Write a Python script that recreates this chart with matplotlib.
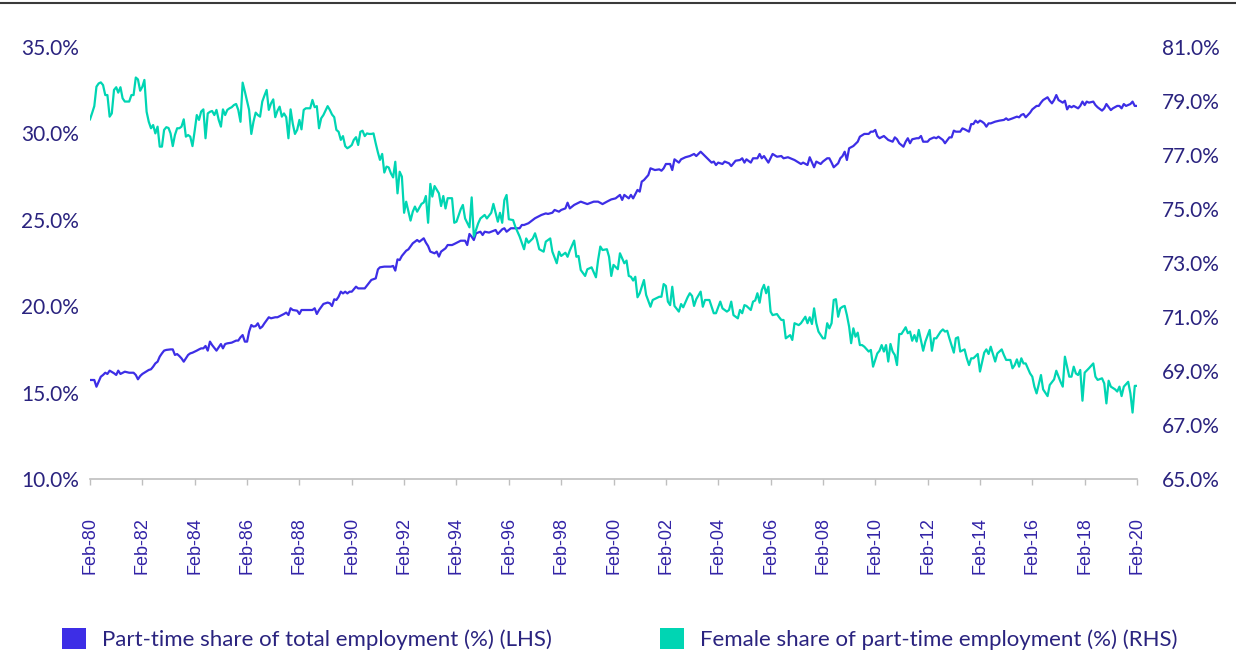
import matplotlib
matplotlib.use("Agg")
import matplotlib.pyplot as plt
import pandas as pd
from matplotlib.lines import Line2D
from matplotlib.patches import Patch
from matplotlib.ticker import FuncFormatter, MultipleLocator

# months counted from Feb-1980
pt_months = [
    0, 2, 3, 5, 6, 7, 8, 9, 11, 12, 13, 14, 16, 18, 20, 21, 22, 23, 24, 25, 27, 28, 29, 30, 31, 32, 33, 34, 35, 37,
    38, 39, 40, 41, 42, 43, 44, 45, 46, 47, 49, 50, 51, 52, 53, 54, 55, 56, 58, 60, 61, 62, 63, 65, 67, 68, 69, 70,
    71, 72, 73, 74, 75, 76, 77, 78, 79, 80, 82, 83, 85, 86, 88, 89, 90, 91, 92, 93, 95, 96, 97, 99, 102, 103, 104,
    105, 107, 109, 110, 111, 112, 113, 114, 115, 116, 117, 118, 119, 120, 122, 123,
    124, 126, 128, 129, 131, 132, 133, 135, 138, 139, 140, 141, 142, 143, 145, 146, 148, 149, 150, 151, 153, 154,
    155, 156, 158, 159, 160, 161, 163, 164, 166, 167, 170, 172, 173, 174, 175, 176, 177, 179, 180, 181, 183, 184,
    186, 187, 189, 190, 191, 193, 195, 197, 198, 199, 201, 203, 204, 206, 207, 209, 210, 212, 213, 215, 216, 218,
    219, 220, 222, 225, 228, 231, 233, 235, 237, 239, 241, 243, 244, 245, 247, 248, 249, 251,
    252, 253, 254, 256, 257, 259, 261, 262, 263, 264, 266, 267, 268, 270, 271, 273, 275, 277, 278, 280, 282, 283,
    285, 286, 287, 288, 290, 291, 293, 294, 296, 298, 299, 300, 301, 303, 304, 306, 307, 308, 309, 311, 313, 315,
    317, 318, 320, 323, 325, 326, 327, 329, 330, 332, 333, 335, 336, 338, 339, 340, 341, 343, 344, 345, 346, 347,
    348, 350, 352, 353, 355, 357, 358, 359, 360, 361,
    362, 364, 366, 368, 369, 370, 371, 373, 374, 375, 376, 377, 379, 380, 381, 382, 384, 385, 387, 388, 389, 391,
    392, 394, 395, 396, 397, 399, 400, 401, 403, 404, 405, 406, 407, 408, 409, 410, 411, 412, 413, 415, 417, 419,
    420, 421, 423, 425, 426, 427, 428, 429, 431, 432, 434, 435, 436, 437, 439, 440, 441, 442, 443, 444, 446, 447,
    448, 449, 450, 451, 453, 454, 455, 456, 457, 458, 460, 461, 462, 464, 465, 466, 468, 469, 471, 472, 473, 474,
    475, 477, 478, 479, 480,
]
pt_share = [
    15.73, 15.73, 15.34, 15.92, 16.02, 16.15, 16.08, 16.27, 16.12, 16.02, 16.27, 16.08, 16.21, 16.15, 16.15, 16.02,
    15.77, 15.96, 16.08, 16.15, 16.31, 16.35, 16.50, 16.69, 16.79, 17.08, 17.27, 17.43, 17.47, 17.50, 17.50, 17.18,
    17.23, 17.12, 16.98, 16.79, 16.98, 17.18, 17.27, 17.31, 17.43, 17.50, 17.56, 17.56, 17.70, 17.43, 17.95, 17.75,
    17.43, 17.81, 17.56, 17.81, 17.85, 17.89, 18.01, 18.01, 18.20, 18.33, 17.95, 17.95, 18.53, 18.91, 18.82, 18.85,
    19.01, 18.72, 18.82, 19.01, 19.36, 19.30, 19.36, 19.36, 19.49, 19.55, 19.63, 19.49, 19.88, 19.78, 19.74, 19.55,
    19.78, 19.78, 19.78, 19.88, 19.55, 19.78, 20.13, 20.21, 20.17, 20.01, 20.40, 20.36, 20.55, 20.84, 20.74, 20.84,
    20.74, 20.84, 20.84, 21.13, 21.03,
    21.03, 21.03, 21.36, 21.52, 21.61, 22.13, 22.25, 22.29, 22.29, 22.33, 22.06, 22.71, 22.67, 22.91, 23.21, 23.29,
    23.64, 23.73, 23.83, 23.73, 23.93, 23.68, 23.48, 23.16, 23.06, 23.16, 22.87, 23.16, 23.35, 23.54, 23.54, 23.60,
    23.79, 23.79, 23.54, 24.18, 24.02, 23.83, 24.22, 24.31, 24.12, 24.31, 24.26, 24.31, 24.41, 24.18, 24.45, 24.51,
    24.31, 24.51, 24.51, 24.51, 24.70, 24.70, 24.80, 24.99, 25.09, 25.22, 25.28, 25.37, 25.34, 25.41, 25.57, 25.47,
    25.57, 25.66, 25.99, 25.66, 25.86, 26.05, 25.91, 26.05, 26.05, 25.91, 26.05, 26.18, 26.24, 26.44, 26.15, 26.44,
    26.24, 26.44, 26.24, 26.73,
    26.63, 27.21, 27.30, 27.59, 27.98, 27.88, 27.92, 27.84, 27.98, 28.23, 28.23, 27.88, 28.50, 28.31, 28.50, 28.62,
    28.69, 28.81, 28.69, 28.94, 28.69, 28.56, 28.31, 28.37, 28.17, 28.31, 28.23, 28.37, 28.27, 28.11, 28.42, 28.46,
    28.56, 28.31, 28.50, 28.31, 28.56, 28.56, 28.81, 28.56, 28.69, 28.31, 28.81, 28.65, 28.69, 28.56, 28.62, 28.46,
    28.31, 28.23, 28.31, 28.17, 28.62, 28.04, 28.37, 28.23, 28.37, 28.56, 28.56, 28.31, 28.04, 28.27, 28.56, 28.69,
    28.94, 28.46, 29.14, 29.27, 29.52, 29.81, 29.97, 29.97, 30.10, 30.10, 30.20, 29.85,
    29.72, 29.85, 29.62, 29.52, 29.77, 29.66, 29.43, 29.23, 29.52, 29.72, 29.43, 29.66, 29.72, 29.72, 29.85, 29.52,
    29.52, 29.66, 29.77, 29.72, 29.81, 29.62, 29.43, 29.77, 29.77, 30.16, 30.10, 30.10, 30.29, 30.24, 30.10, 30.54,
    30.54, 30.74, 30.62, 30.74, 30.68, 30.58, 30.39, 30.58, 30.58, 30.68, 30.74, 30.78, 30.87, 30.78, 30.87, 30.97,
    30.93, 31.07, 31.12, 30.93, 31.20, 31.39, 31.59, 31.59, 31.78, 31.93, 32.09, 31.89, 31.74, 31.93, 32.22, 31.93,
    31.78, 31.89, 31.39, 31.59, 31.51, 31.59, 31.45, 31.59, 31.84, 31.64, 31.84, 31.78, 31.84, 31.64, 31.51, 31.32,
    31.45, 31.70, 31.35, 31.45, 31.59, 31.59, 31.45, 31.70, 31.59, 31.70, 31.84, 31.59, 31.59,
]

fem_months = [
    0, 1, 2, 3, 4, 5, 6, 7, 8, 9, 10, 11, 12, 13, 14, 15, 16, 17, 18, 19, 20, 21, 22, 23, 24, 25, 26, 27, 28, 29,
    30, 31, 32, 33, 34, 35, 36, 37, 38, 39, 40, 41, 42, 43, 44, 45, 46, 47, 48, 49, 50, 51, 52, 53, 54, 55, 56, 57,
    58, 59, 60, 61, 62, 63, 64, 65, 66, 67, 68, 69, 70, 71, 72, 73, 74, 75, 76, 77, 78, 79, 80, 81, 82, 83, 84, 85,
    86, 87, 88, 89, 90, 91, 92, 93, 94, 95, 96, 97, 98, 99, 100, 101, 102, 103, 104, 105, 106, 107, 108, 109, 110,
    111, 112, 113, 114, 115, 116, 117, 118, 119, 120, 121, 122, 123, 124, 125, 126, 127, 128, 129, 130, 131, 132, 133,
    134, 135, 136, 137, 138, 139, 140, 141, 142, 143, 144, 145, 147, 148, 149, 150, 152, 153, 154, 155, 156, 157, 158,
    160, 161, 162, 163, 164, 166, 167, 168, 170, 171, 172, 173, 174, 175, 176, 178, 179, 181, 182, 184, 185, 187, 188,
    189, 190, 191, 192, 194, 195, 197, 199, 200, 201, 203, 204, 205, 206, 208, 209, 211, 212, 214, 215, 216, 218, 219,
    220, 222, 223, 224, 225, 227, 228, 229, 230, 232, 233, 234, 235, 237, 238, 239, 240, 242, 243, 245, 246, 247, 248,
    249, 250, 251,
    252, 254, 255, 257, 258, 261, 262, 263, 264, 265, 266, 267, 268, 270, 271, 272, 274, 275, 276, 277, 278, 280, 281,
    282, 284, 286, 287, 289, 290, 292, 293, 294, 295, 297, 298, 299, 300, 301, 303, 304, 305, 306, 307, 308, 309, 310,
    311, 312, 313, 315, 316, 317, 318, 319, 321, 322, 323, 325, 326, 328, 329, 330, 331, 332, 333, 334, 336, 337, 338,
    339, 340, 341, 342, 343, 344, 345, 346, 347, 348, 349, 350, 351, 352, 353, 354, 355, 357, 358, 359, 361, 362, 363,
    364, 365, 366, 367, 368, 369, 370, 371,
    372, 374, 375, 376, 377, 378, 379, 380, 382, 383, 385, 386, 387, 388, 390, 391, 392, 393, 394, 396, 397, 398, 399,
    401, 402, 403, 404, 405, 407, 408, 410, 411, 412, 413, 414, 415, 416, 418, 419, 420, 422, 423, 424, 425, 426, 427,
    428, 429, 431, 432, 433, 434, 436, 437, 439, 440, 442, 443, 444, 445, 446, 447, 449, 450, 451, 452, 453, 454, 455,
    456, 458, 460, 461, 462, 464, 465, 466, 467, 468, 470, 471, 472, 473, 474, 476, 477, 478, 479, 480,
]
fem_share = [
    78.32, 78.55, 78.81, 79.53, 79.65, 79.69, 79.59, 79.22, 79.22, 78.42, 78.54, 79.41, 79.51, 79.31, 79.51, 79.10,
    78.98, 78.98, 78.98, 79.22, 79.22, 79.87, 79.80, 79.38, 79.53, 79.78, 78.60, 78.23, 77.99, 78.11, 77.80, 78.05,
    77.31, 77.31, 77.93, 78.03, 78.00, 77.80, 77.33, 77.74, 77.99, 77.99, 78.05, 78.32, 77.68, 77.74, 77.68, 77.33,
    77.90, 78.48, 78.30, 78.61, 78.69, 77.62, 78.54, 78.60, 78.63, 78.48, 78.67, 78.30, 78.05, 78.69, 78.48, 78.67,
    78.73, 78.77, 78.85, 78.89, 78.67, 78.23, 79.68, 79.35, 79.00, 78.67, 77.78, 78.23, 78.57, 78.48, 78.42, 78.98,
    79.20, 79.41, 78.67, 78.91, 79.06, 78.40, 78.64, 78.79, 78.42, 78.54, 78.40, 77.62, 78.69, 78.15, 77.78, 77.93,
    78.30, 77.95, 78.67, 78.73, 78.73, 78.73, 79.04, 78.77, 78.81, 77.99, 78.36, 78.48, 78.65, 78.81, 78.67, 78.50,
    78.40, 77.93, 77.86, 77.56, 77.70, 77.33, 77.25, 77.30, 77.37, 77.56, 77.66, 77.37, 77.86, 77.90, 77.70, 77.80,
    77.78, 77.78, 77.80, 77.43, 77.09, 76.82,
    77.04, 76.35, 76.57, 76.54, 76.32, 76.17, 76.75, 75.58, 76.38, 76.20, 74.86, 75.27, 74.57, 74.90, 75.09, 74.90,
    75.19, 75.24, 75.48, 74.49, 75.93, 75.46, 75.85, 75.58, 75.11, 75.48, 75.02, 75.40, 75.40, 74.49, 74.53, 74.99,
    75.15, 74.65, 74.49, 74.32, 75.43, 73.98, 74.47, 74.65, 74.78, 74.65, 74.86, 75.19, 74.53, 74.86, 74.49, 75.33,
    75.52, 74.62, 74.59, 74.35, 73.98, 73.51, 73.91, 73.75, 73.91, 74.10, 73.85, 73.51, 73.42, 73.79, 73.91, 73.42,
    72.99, 73.42, 73.26, 73.38, 73.23, 73.46, 73.83, 73.23, 73.26, 72.74, 72.52, 72.77, 72.80, 72.84, 72.47, 73.11,
    73.61, 73.48, 73.51, 73.23, 72.52, 72.93, 72.77, 73.36, 72.99, 73.09, 72.52, 72.49, 72.35, 72.49, 71.73,
    71.88, 72.37, 71.82, 71.38, 71.63, 71.75, 71.75, 72.22, 72.15, 71.57, 71.44, 72.12, 71.41, 71.20, 71.48, 71.36,
    71.73, 71.88, 71.78, 71.41, 71.66, 71.94, 71.38, 71.63, 71.63, 71.14, 71.14, 71.57, 71.32, 71.20, 71.26, 71.57,
    71.07, 70.95, 71.26, 71.14, 71.44, 71.41, 71.26, 71.57, 71.61, 71.88, 71.53, 72.00, 72.19, 71.88, 72.12, 71.20,
    71.07, 71.11, 70.99, 70.89, 70.89, 70.21, 70.33, 70.15, 70.77, 70.70, 70.77, 71.01, 70.77, 70.99, 70.74, 71.32,
    70.77, 70.46, 70.21, 70.21, 70.77, 70.58, 70.77, 71.63, 71.66, 71.01, 71.32, 71.38, 71.41, 71.07, 70.64, 70.03,
    70.58, 70.27, 70.42, 69.96, 69.96, 69.90, 69.72, 69.78, 69.16, 69.65, 69.75, 69.96, 69.72, 69.96, 69.35, 70.00,
    69.72, 69.59, 69.22, 70.37,
    70.37, 70.62, 70.40, 70.46, 70.12, 70.33, 70.09, 70.52, 69.75, 70.09, 70.52, 69.75, 70.21, 70.21, 70.46, 70.54,
    70.46, 70.49, 70.21, 69.68, 70.21, 70.25, 69.72, 69.80, 69.47, 69.22, 69.47, 69.47, 69.63, 68.98, 69.68, 69.80,
    69.63, 69.90, 69.63, 69.35, 69.65, 69.80, 69.59, 69.41, 69.41, 69.10, 69.22, 69.43, 69.16, 69.47, 69.28, 69.28,
    68.91, 68.79, 68.42, 68.17, 68.85, 68.32, 68.07, 68.48, 68.69, 69.01, 68.79, 68.60, 68.42, 69.53, 68.79, 68.79,
    69.16, 68.91, 68.85, 69.04, 67.90, 68.94, 69.10, 69.28, 68.79, 68.67, 68.73, 68.54, 67.80, 68.64, 68.42, 68.32,
    68.24, 68.42, 68.07, 68.42, 68.60, 68.17, 67.46, 68.45, 68.45,
]

legend_labels = [
    "Part-time share of total employment (%) (LHS)",
    "Female share of part-time employment (%) (RHS)",
]

purple = "#3d2ee6"
teal = "#00d5b3"
text_navy = "#2a237f"
tick_blue = "#3223a6"
grey = "#bfbfbf"

months = pd.date_range("1980-02-01", "2020-02-01", freq="MS")
pt_dates = months[pt_months]
fem_dates = months[fem_months]

fig = plt.figure(figsize=(12.36, 6.52), dpi=100)
ax = fig.add_axes([90 / 1236, 173 / 652, 1047 / 1236, 432 / 652])
ax2 = ax.twinx()

ax.plot(pt_dates, pt_share, color=purple, lw=1.6)
ax2.plot(fem_dates, fem_share, color=teal, lw=1.6)

ax.set_xlim(months[0], months[-1])
ax.set_ylim(10, 35)
ax2.set_ylim(65, 81)
ax.yaxis.set_major_locator(MultipleLocator(5))
ax2.set_yticks(range(65, 82, 2))
ax.yaxis.set_major_formatter(FuncFormatter(lambda v, p: f"{v:.1f}%"))
ax2.yaxis.set_major_formatter(FuncFormatter(lambda v, p: f"{v:.1f}%"))

xt = months[::24]
ax.set_xticks(xt)
ax.set_xticklabels([d.strftime("%b-%y") for d in xt], rotation=90,
                   fontfamily="Liberation Sans", fontsize=13, color=tick_blue)
ax.tick_params(axis="x", length=4.5, width=1, color=grey, pad=23)

for a in (ax, ax2):
    for s in a.spines.values():
        s.set_visible(False)
    for lab in a.get_yticklabels():
        lab.set_fontfamily("Lato")
        lab.set_fontsize(15)
        lab.set_color(text_navy)
ax.spines["bottom"].set_visible(True)
ax.spines["bottom"].set_color(grey)
ax.spines["bottom"].set_linewidth(1.2)
ax.tick_params(axis="y", length=0, pad=8)
ax2.tick_params(axis="y", length=0, pad=18)

fig.add_artist(Line2D([0, 1], [1 - 3 / 652, 1 - 3 / 652], color="#3a3a3a", lw=1.5))

handles = [Patch(facecolor=purple, edgecolor="none"), Patch(facecolor=teal, edgecolor="none")]
leg = fig.legend(handles, legend_labels, loc="center left", bbox_to_anchor=(42 / 1236, 1 - 639 / 652),
                 ncol=2, frameon=False, handlelength=1.08, handleheight=1.08, handletextpad=0.72,
                 columnspacing=4.86, prop={"family": "Lato", "size": 16})
for t in leg.get_texts():
    t.set_color(text_navy)

fig.savefig("out.png", dpi=100)
